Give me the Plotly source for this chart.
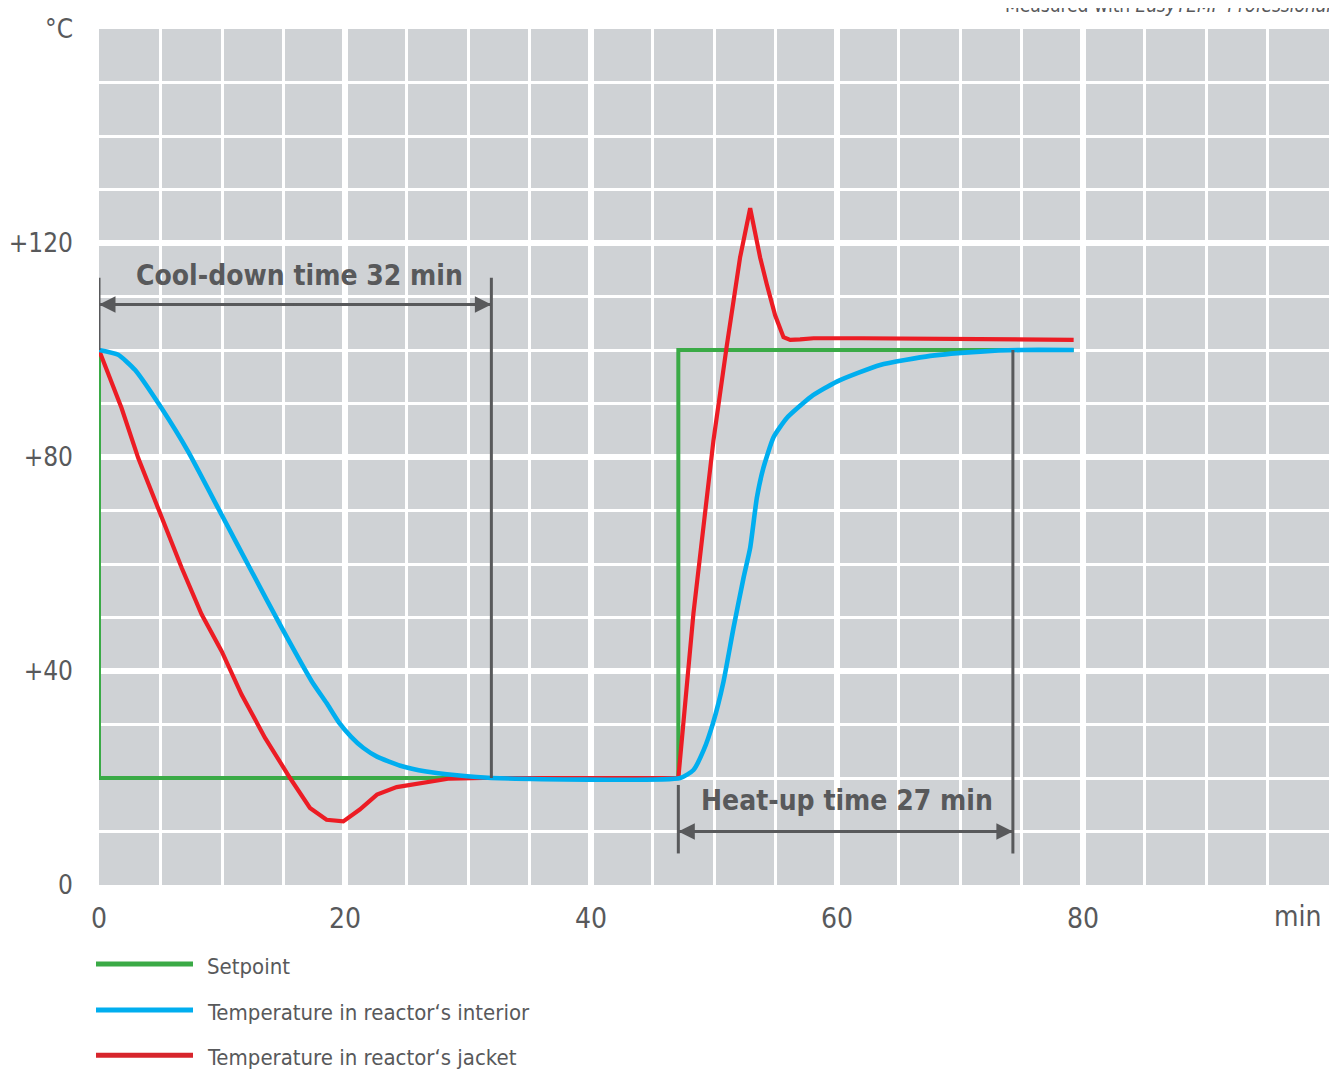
import plotly.graph_objects as go

# ---------------- data ----------------
setpoint_t = [0, 0, 47.1, 47.1, 79.24]
setpoint_T = [100, 20, 20, 100, 100]

interior_t = [0, 1.56, 2.92, 5.09, 7.25, 9.97, 12.41, 14.85, 17.29, 18.5, 19.5, 20.5, 21.5,
              22.6, 24.5, 26.6, 29.1, 31.9, 47.25, 48.33, 49.14, 49.95, 50.77, 51.58,
              52.39, 52.94, 53.48, 54.02, 54.84, 55.92, 57.9, 59.99, 63.51, 67.58,
              71.65, 75.0, 79.24]
interior_T = [100, 99.1, 96.3, 89.1, 81.0, 69.2, 58.6, 48.1, 38.1, 34.0, 30.4, 27.7, 25.6,
              24.0, 22.3, 21.2, 20.5, 20, 20, 21.5, 25.1, 30.5, 38.0, 48.0,
              57.3, 63.0, 72.3, 78.0, 83.7, 87.3, 91.3, 94.1, 97.2, 98.9,
              99.7, 100, 100]

jacket_t = [0, 1.84, 3.19, 5.09, 6.72, 8.34, 9.97, 11.59, 13.5, 15.53, 17.15, 18.5,
            19.86, 21.2, 22.6, 24.2, 26.4, 28.5, 31.2, 47.1, 48.33, 49.14, 49.95,
            51.04, 52.12, 52.94, 53.75, 54.29, 54.97, 55.65, 56.2, 57.0, 58.1, 62,
            66, 70, 74, 79.24]
jacket_T = [100, 89.1, 79.8, 68.6, 59.3, 50.6, 43.7, 35.6, 27.5, 20.0, 14.4, 12.2,
            11.9, 14.1, 16.9, 18.3, 19.1, 19.9, 20, 20, 50.8, 67.3, 83.0,
            100.8, 117.3, 126.5, 117.3, 112.3, 106.5, 102.4, 101.9, 102.0, 102.2, 102.2,
            102.1, 102.0, 102.0, 101.9]

x_tickvals = [0, 20, 40, 60, 80, 100]
x_ticktext = ["0", "20", "40", "60", "80", ""]
y_tickvals = [0, 40, 80, 120, 160]
y_ticktext = ["0", "+40", "+80", "+120", "°C"]

series_names = ["Setpoint", "Temperature in reactor‘s interior", "Temperature in reactor‘s jacket"]

cool_start, cool_end = 0, 31.9
heat_start, heat_end = 47.1, 74.3

# ---------------- style ----------------
OFF = 8                      # page body margin of the html page
W, H = 1337 - OFF, 1073 - OFF
L, T = 91, 21
FONT = "DejaVu Sans Condensed, Liberation Sans Narrow, Arial Narrow, sans-serif"
TXT = "#58595b"
GREEN = "#3aaa46"
BLUE = "#00aeef"
RED = "#ec1c24"
LEG_RED = "#d7252c"
BG = "#cfd2d5"

# plot area: x 99.1..1328.6, y 29..885.4 in page pixels
R = W - L - 1230
B = H - T - 856


def px(xp):
    return (xp - OFF - L) / (W - L - R)


def py(yp):
    return (H - B - (yp - OFF)) / (H - T - B)


fig = go.Figure()
fig.add_trace(go.Scatter(x=setpoint_t, y=setpoint_T, mode="lines", name=series_names[0],
                         line=dict(color=GREEN, width=4), showlegend=False))
fig.add_trace(go.Scatter(x=jacket_t, y=jacket_T, mode="lines", name=series_names[2],
                         line=dict(color=RED, width=4.2), showlegend=False))
fig.add_trace(go.Scatter(x=interior_t, y=interior_T, mode="lines", name=series_names[1],
                         line=dict(color=BLUE, width=4.6, shape="spline", smoothing=0.5),
                         showlegend=False))

shapes = []
dim = dict(color=TXT, width=3)
# cool-down dimension lines
shapes.append(dict(type="line", xref="x", yref="y", x0=cool_start, x1=cool_start, y0=100, y1=113.5, line=dim))
shapes.append(dict(type="line", xref="x", yref="y", x0=cool_end, x1=cool_end, y0=20, y1=113.5, line=dim))
shapes.append(dict(type="line", xref="x", yref="y", x0=cool_start, x1=cool_end, y0=108.5, y1=108.5, line=dim))
# heat-up dimension lines
shapes.append(dict(type="line", xref="x", yref="y", x0=heat_start, x1=heat_start, y0=5.9, y1=18.7, line=dim))
shapes.append(dict(type="line", xref="x", yref="y", x0=heat_end, x1=heat_end, y0=5.9, y1=100, line=dim))
shapes.append(dict(type="line", xref="x", yref="y", x0=heat_start, x1=heat_end, y0=10, y1=10, line=dim))

# legend
leg_y = [964, 1010, 1055.3]
leg_cols = [GREEN, BLUE, LEG_RED]
annotations = []
for name, yy, col in zip(series_names, leg_y, leg_cols):
    shapes.append(dict(type="line", xref="paper", yref="paper", x0=px(96), x1=px(193),
                       y0=py(yy), y1=py(yy), line=dict(color=col, width=5)))
    annotations.append(dict(xref="paper", yref="paper", x=px(205), y=py(yy + 2), text=name,
                            showarrow=False, xanchor="left", yanchor="middle",
                            font=dict(family=FONT, size=22, color=TXT)))

# arrowheads
def arrow(xtip, xtail, yv):
    return dict(x=xtip, y=yv, ax=xtail, ay=yv, xref="x", yref="y", axref="x", ayref="y",
                text="", showarrow=True, arrowhead=2, arrowsize=1.1, arrowwidth=3,
                arrowcolor=TXT, standoff=0, startstandoff=0)

cm = (cool_start + cool_end) / 2
hm = (heat_start + heat_end) / 2
annotations += [arrow(cool_start, cm, 108.5), arrow(cool_end, cm, 108.5),
                arrow(heat_start, hm, 10), arrow(heat_end, hm, 10)]

annotations.append(dict(x=16.3, y=113.9, xref="x", yref="y", text="<b>Cool-down time 32 min</b>",
                        showarrow=False, xanchor="center", yanchor="middle",
                        font=dict(family=FONT, size=28, color=TXT)))
annotations.append(dict(x=60.8, y=15.8, xref="x", yref="y", text="<b>Heat-up time 27 min</b>",
                        showarrow=False, xanchor="center", yanchor="middle",
                        font=dict(family=FONT, size=28, color=TXT)))
annotations.append(dict(xref="paper", yref="paper", x=px(1323.5), y=py(916), text="min",
                        showarrow=False, xanchor="right", yanchor="middle",
                        font=dict(family=FONT, size=28, color=TXT)))
annotations.append(dict(xref="paper", yref="paper", x=px(1333), y=py(18),
                        text="Measured with <i>EasyTEMP Professional</i>",
                        showarrow=False, xanchor="right", yanchor="bottom",
                        font=dict(family=FONT, size=19, color=TXT)))

fig.update_layout(
    width=W, height=H,
    margin=dict(l=L, r=R, t=T, b=B, autoexpand=False),
    paper_bgcolor="white", plot_bgcolor=BG,
    shapes=shapes, annotations=annotations,
    showlegend=False,
    font=dict(family=FONT, color=TXT),
)
fig.update_xaxes(range=[0, 100], tickvals=x_tickvals, ticktext=x_ticktext, automargin=False,
                 showgrid=True, gridcolor="white", gridwidth=6, zeroline=False,
                 showline=False, ticks="", ticklabelstandoff=14,
                 tickfont=dict(family=FONT, size=28, color=TXT),
                 minor=dict(dtick=5, tick0=0, showgrid=True, gridcolor="white", gridwidth=3))
fig.update_yaxes(range=[0, 160], tickvals=y_tickvals, ticktext=y_ticktext, automargin=False,
                 showgrid=True, gridcolor="white", gridwidth=6, zeroline=False,
                 showline=False, ticks="", ticklabelstandoff=25,
                 tickfont=dict(family=FONT, size=26, color=TXT),
                 minor=dict(dtick=10, tick0=0, showgrid=True, gridcolor="white", gridwidth=3))

fig.write_html("out.html")
